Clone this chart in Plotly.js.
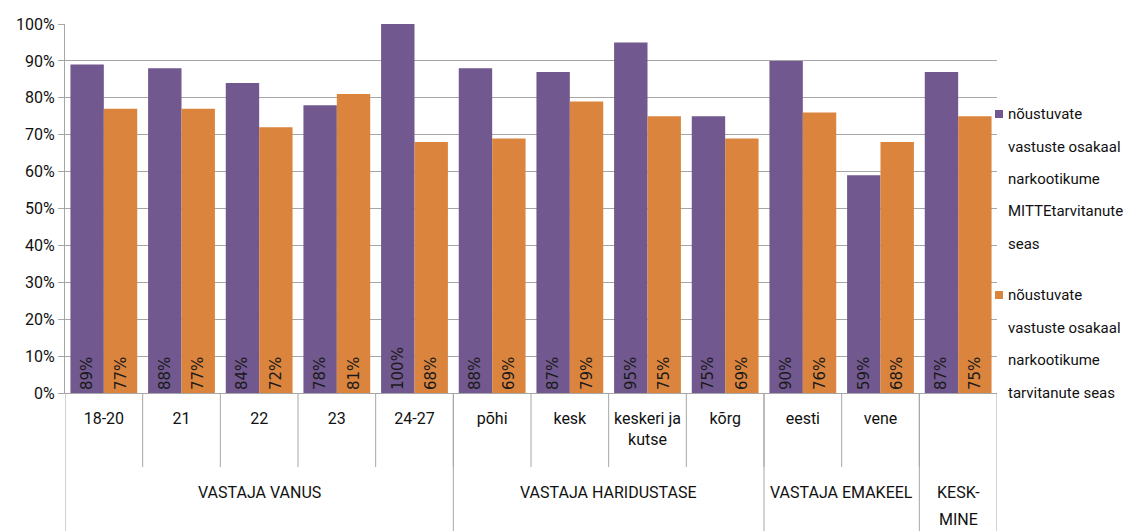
<!DOCTYPE html>
<html>
<head>
<meta charset="utf-8">
<script src="https://cdn.plot.ly/plotly-3.0.1.min.js"></script>
<style>
  html, body { margin: 0; padding: 0; background: #fff; }
  #chart { width: 1132px; height: 531px; }
</style>
</head>
<body>
<div id="chart"></div>
<script>
// categories and groups of the multi-level x axis
const categories = ["18-20", "21", "22", "23", "24-27", "põhi", "kesk", "keskeri ja<br>kutse", "kõrg", "eesti", "vene", ""];
const groupNames = [["VASTAJA VANUS"], ["VASTAJA HARIDUSTASE"], ["VASTAJA EMAKEEL"], ["KESK-", "MINE"]];
const groupSizes = [5, 4, 2, 1];

// series
const seriesNames = [
  ["nõustuvate", "vastuste osakaal", "narkootikume", "MITTEtarvitanute", "seas"],
  ["nõustuvate", "vastuste osakaal", "narkootikume", "tarvitanute seas"],
];
const notUsing = [89, 88, 84, 78, 100, 88, 87, 95, 75, 90, 59, 87];
const using = [77, 77, 72, 81, 68, 69, 79, 75, 69, 76, 68, 75];

const colors = ["#71588F", "#DB843D"];
const FONT = "Roboto, Open Sans, sans-serif";

// plot area in pixels (for placing the legend / group labels)
const M = { l: 65, r: 135, t: 24, b: 138 };
const W = 1132;
const H = 531;
const plotW = W - M.l - M.r;
const plotH = H - M.t - M.b;
const px = (x) => (x - M.l) / plotW;        // pixel column -> paper x
const py = (y) => (H - M.b - y) / plotH;    // pixel row -> paper y

const xs = categories.map((c, i) => i);

const data = [notUsing, using].map((vals, k) => ({
  type: "bar",
  x: xs,
  y: vals,
  name: seriesNames[k].join(" "),
  marker: { color: colors[k] },
  text: vals.map((v) => v + "%"),
  textposition: "inside",
  insidetextanchor: "start",
  textangle: -90,
  textfont: { family: "DejaVu Sans, sans-serif", size: 15, color: "#1a1a1a" },
  constraintext: "none",
  hoverinfo: "skip",
}));

const shapes = [];
const annotations = [];
const lineCol = "#a6a6a6";
const txtFont = { family: FONT, size: 16, color: "#111" };

// short dividers between categories
for (let i = 0; i < categories.length - 1; i++) {
  shapes.push({
    type: "line", xref: "x", yref: "paper",
    x0: i + 0.5, x1: i + 0.5, y0: 0, y1: py(467),
    line: { color: lineCol, width: 1 },
  });
}

// long dividers between groups + group labels
let start = 0;
const edges = [-0.5];
groupSizes.forEach((n, g) => {
  const end = start + n;
  edges.push(end - 0.5);
  groupNames[g].forEach((txt, j) => {
    annotations.push({
      xref: "x", yref: "paper",
      x: (start + end - 1) / 2, xanchor: "center",
      y: py(493 + j * 26), yanchor: "middle",
      text: txt, showarrow: false,
      font: txtFont,
    });
  });
  start = end;
});
edges.forEach((e) => {
  shapes.push({
    type: "line", xref: "x", yref: "paper",
    x0: e, x1: e, y0: 0, y1: py(560),
    line: { color: lineCol, width: 1 },
  });
});

// legend drawn by hand so the wide line spacing matches
const legendTop = [114, 295];
seriesNames.forEach((lines, k) => {
  shapes.push({
    type: "rect", xref: "paper", yref: "paper",
    x0: px(995), x1: px(1003),
    y0: py(legendTop[k] + 4), y1: py(legendTop[k] - 4),
    fillcolor: colors[k], line: { width: 0 },
  });
  lines.forEach((txt, j) => {
    annotations.push({
      xref: "paper", yref: "paper",
      x: px(1006), xanchor: "left",
      y: py(legendTop[k] + j * 32.5), yanchor: "middle",
      text: txt, showarrow: false,
      font: { family: FONT, size: 15, color: "#111" },
    });
  });
});

const layout = {
  width: W,
  height: H,
  margin: M,
  paper_bgcolor: "#fff",
  plot_bgcolor: "#fff",
  barmode: "group",
  bargap: 0.14,
  bargroupgap: 0,
  showlegend: false,
  font: txtFont,
  xaxis: {
    range: [-0.5, categories.length - 0.5],
    tickmode: "array",
    tickvals: xs,
    ticktext: categories,
    ticks: "",
    ticklabelstandoff: 11,
    showline: true,
    linecolor: lineCol,
    showgrid: false,
    zeroline: false,
    automargin: false,
    fixedrange: true,
  },
  yaxis: {
    range: [0, 100],
    dtick: 10,
    ticksuffix: "%",
    ticks: "outside",
    ticklen: 6,
    tickcolor: lineCol,
    showline: true,
    linecolor: lineCol,
    gridcolor: "#a6a6a6",
    zeroline: false,
    automargin: false,
    fixedrange: true,
  },
  shapes,
  annotations,
};

Plotly.newPlot("chart", data, layout, { displayModeBar: false, staticPlot: true });
</script>
</body>
</html>
